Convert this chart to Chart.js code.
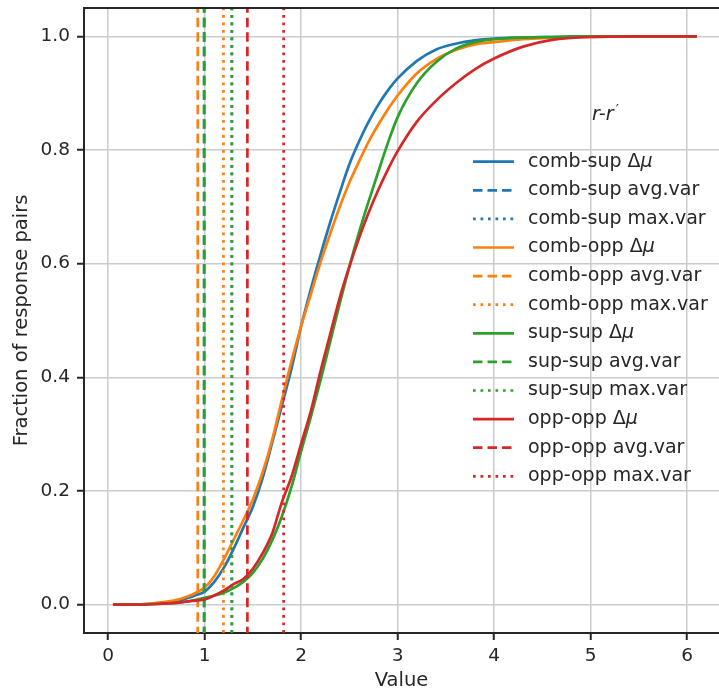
<!DOCTYPE html>
<html>
<head>
<meta charset="utf-8">
<script src="https://cdn.jsdelivr.net/npm/chart.js@4.4.1/dist/chart.umd.min.js"></script>
<style>
  html, body { margin: 0; padding: 0; background: #fff; }
  #wrap { width: 719px; height: 696px; }
</style>
</head>
<body>
<div id="wrap"><canvas id="cdf" width="719" height="696"></canvas></div>
<script>
// eje x comun para las cuatro curvas
const valores = [0.05, 0.3, 0.5, 0.7, 0.8, 0.9,
  1.0, 1.1, 1.2, 1.3, 1.4, 1.5, 1.6, 1.7, 1.8, 1.9,
  2.0, 2.1, 2.2, 2.3, 2.4, 2.5, 2.6, 2.7, 2.8, 2.9,
  3.0, 3.2, 3.4, 3.6, 3.8, 4.0, 4.3, 4.6, 5.0, 5.5, 6.1];

const combSup = [0, 0, 0.002, 0.006, 0.01, 0.016,
  0.023, 0.04, 0.065, 0.098, 0.135, 0.172, 0.222, 0.285, 0.35, 0.415,
  0.49, 0.555, 0.615, 0.672, 0.725, 0.775, 0.815, 0.85, 0.88, 0.905,
  0.926, 0.957, 0.977, 0.987, 0.993, 0.996, 0.998, 0.999, 1, 1, 1];

const combOpp = [0, 0, 0.003, 0.008, 0.013, 0.02,
  0.03, 0.05, 0.08, 0.114, 0.148, 0.185, 0.232, 0.29, 0.36, 0.428,
  0.49, 0.546, 0.602, 0.652, 0.70, 0.743, 0.78, 0.815, 0.845, 0.872,
  0.896, 0.935, 0.96, 0.976, 0.986, 0.99, 0.995, 0.998, 0.999, 1, 1];

const supSup = [0, 0, 0.001, 0.003, 0.005, 0.008,
  0.012, 0.016, 0.021, 0.029, 0.04, 0.056, 0.08, 0.113, 0.155, 0.207,
  0.27, 0.33, 0.394, 0.462, 0.53, 0.595, 0.655, 0.71, 0.762, 0.813,
  0.858, 0.918, 0.955, 0.978, 0.99, 0.995, 0.998, 0.999, 1, 1, 1];

const oppOpp = [0, 0, 0.001, 0.003, 0.005, 0.007,
  0.009, 0.016, 0.025, 0.036, 0.045, 0.063, 0.09, 0.125, 0.18, 0.225,
  0.283, 0.34, 0.41, 0.475, 0.54, 0.595, 0.645, 0.69, 0.73, 0.766,
  0.798, 0.85, 0.887, 0.917, 0.942, 0.961, 0.982, 0.994, 0.999, 1, 1];

// lineas verticales (orden: comb-sup, comb-opp, sup-sup, opp-opp)
const avgVar = [0.995, 0.929, 0.995, 1.443];
const maxVar = [1.282, 1.195, 1.282, 1.819];

const grupos = ['comb-sup', 'comb-opp', 'sup-sup', 'opp-opp'];
const colores = ['#1f77b4', '#ff7f0e', '#2ca02c', '#d62728'];
const curvas = [combSup, combOpp, supSup, oppOpp];

const marcasX = [0, 1, 2, 3, 4, 5, 6];
const marcasY = [0, 0.2, 0.4, 0.6, 0.8, 1.0];

const texto = '#262626';
const fuente = 'DejaVu Sans';

const datasets = [];
grupos.forEach((g, i) => {
    datasets.push({
        label: g + ' Δμ',
        data: valores.map((v, k) => ({x: v, y: curvas[i][k]})),
        borderColor: colores[i],
        borderWidth: 2.7,
        borderDash: [],
        pointRadius: 0,
        cubicInterpolationMode: 'monotone',
        fill: false
    });
    datasets.push({
        label: g + ' avg.var',
        data: [{x: avgVar[i], y: -1}, {x: avgVar[i], y: 2}],
        borderColor: colores[i],
        borderWidth: 2.7,
        borderDash: [9.5, 5],
        borderCapStyle: 'butt',
        pointRadius: 0,
        fill: false
    });
    datasets.push({
        label: g + ' max.var',
        data: [{x: maxVar[i], y: -1}, {x: maxVar[i], y: 2}],
        borderColor: colores[i],
        borderWidth: 2.7,
        borderDash: [2.7, 4.8],
        borderCapStyle: 'butt',
        pointRadius: 0,
        fill: false
    });
});
// el ultimo dataset queda encima, como en matplotlib
datasets.forEach((d, i) => { d.order = datasets.length - i; });

const sinRelleno = s => {
    s.paddingTop = 0; s.paddingBottom = 0;
    s.paddingLeft = 0; s.paddingRight = 0;
};

const leyendaInterna = {
    id: 'leyendaInterna',
    afterDraw(chart) {
        const ctx = chart.ctx;
        const area = chart.chartArea;
        ctx.save();
        // borde superior
        ctx.strokeStyle = texto;
        ctx.lineWidth = 2;
        ctx.setLineDash([]);
        ctx.beginPath();
        ctx.moveTo(area.left - 1, area.top);
        ctx.lineTo(area.right, area.top);
        ctx.stroke();

        // titulo de la leyenda
        ctx.fillStyle = texto;
        ctx.textBaseline = 'middle';
        ctx.textAlign = 'left';
        ctx.font = 'italic 19px "' + fuente + '"';
        const t = 'r-r';
        const tx = 592;
        ctx.fillText(t, tx, 115);
        ctx.font = '14px "' + fuente + '"';
        ctx.fillText('′', tx + ctx.measureText(t).width + 8, 110);

        chart.data.datasets.forEach((ds, i) => {
            const y = 161.7 + i * 28.6;
            ctx.strokeStyle = ds.borderColor;
            ctx.lineWidth = ds.borderWidth;
            ctx.lineCap = 'butt';
            ctx.setLineDash(ds.borderDash);
            ctx.beginPath();
            ctx.moveTo(473, y);
            ctx.lineTo(514, y);
            ctx.stroke();

            ctx.fillStyle = texto;
            let x = 528;
            if (ds.label.endsWith('Δμ')) {
                const base = ds.label.slice(0, -1);
                ctx.font = '19px "' + fuente + '"';
                ctx.fillText(base, x, y);
                x += ctx.measureText(base).width;
                ctx.font = 'italic 19px "' + fuente + '"';
                ctx.fillText('μ', x, y);
            } else {
                ctx.font = '19px "' + fuente + '"';
                ctx.fillText(ds.label, x, y);
            }
        });
        ctx.restore();
    }
};

const cdf = new Chart(document.getElementById('cdf'), {
    type: 'line',
    data: { datasets: datasets },
    options: {
        responsive: false,
        animation: false,
        devicePixelRatio: 1,
        layout: { padding: { left: 0, right: 0, top: 8, bottom: 0 } },
        plugins: {
            legend: { display: false },
            tooltip: { enabled: false }
        },
        scales: {
            x: {
                type: 'linear',
                min: -0.25,
                max: 6.33,
                afterBuildTicks: s => { s.ticks = marcasX.map(v => ({value: v})); },
                afterFit: s => { s.height = 63; sinRelleno(s); },
                grid: { color: '#cccccc', lineWidth: 1.5, tickColor: texto, tickWidth: 2, tickLength: 7 },
                border: { color: texto, width: 2 },
                ticks: {
                    color: texto,
                    font: { family: fuente, size: 18.5 },
                    padding: 5,
                    maxRotation: 0,
                    callback: v => String(v)
                },
                title: {
                    display: true,
                    text: 'Value',
                    color: texto,
                    font: { family: fuente, size: 19.5 },
                    padding: { top: 0, bottom: 3 }
                }
            },
            y: {
                type: 'linear',
                min: -0.05,
                max: 1.05,
                afterBuildTicks: s => { s.ticks = marcasY.map(v => ({value: v})); },
                afterFit: s => { s.width = 84; sinRelleno(s); },
                grid: { color: '#cccccc', lineWidth: 1.5, tickColor: texto, tickWidth: 2, tickLength: 7 },
                border: { color: texto, width: 2 },
                ticks: {
                    color: texto,
                    font: { family: fuente, size: 18.5 },
                    padding: 7,
                    callback: v => v.toFixed(1)
                },
                title: {
                    display: true,
                    text: 'Fraction of response pairs',
                    color: texto,
                    font: { family: fuente, size: 19.5 },
                    padding: { top: 10, bottom: 0 }
                }
            }
        }
    },
    plugins: [leyendaInterna]
});
</script>
</body>
</html>
